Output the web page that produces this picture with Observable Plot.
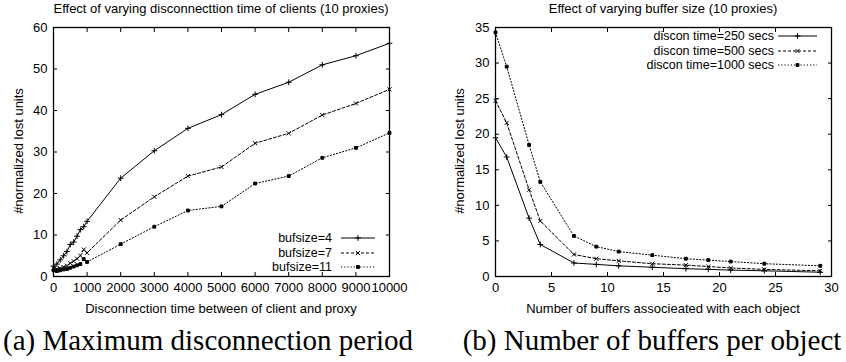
<!DOCTYPE html>
<html>
<head>
<meta charset="utf-8">
<script src="https://cdn.jsdelivr.net/npm/d3@7"></script>
<script src="https://cdn.jsdelivr.net/npm/@observablehq/plot@0.6"></script>
<style>
  body { margin: 0; background: #fff; }
  #wrap { position: relative; width: 846px; height: 362px; overflow: hidden; font-family: "Liberation Sans", Arial, sans-serif; color: #000; }
  .abs { position: absolute; white-space: nowrap; line-height: 15px; }
  .title { font-size: 13px; transform: translateX(-50%); }
  .xlab { font-size: 13px; transform: translateX(-50%); }
  .ylab { font-size: 13px; transform: translate(-50%, -50%) rotate(-90deg); }
  .cap { font-family: "Liberation Serif", "Times New Roman", serif; font-size: 29px; line-height: 33px; transform: translateX(-50%); }
  .leg { position: absolute; font-size: 12.5px; line-height: 12px; }
  .leg .row { position: absolute; right: 0; display: flex; align-items: center; white-space: nowrap; height: 12px; }
  .plot { position: absolute; top: 0; }
</style>
</head>
<body>
<div id="wrap"></div>
<script>
// ---- Panel (a): disconnection time ----
const discTimes = [0,100,200,300,400,500,600,700,800,900,1000,2000,3000,4000,5000,6000,7000,8000,9000,10000];
const buf4  = [2.5,3.0,4.0,5.0,6.0,7.7,8.3,9.7,11.3,12.0,13.3,23.7,30.3,35.7,39.0,43.9,46.8,51.0,53.2,56.2];
const buf7  = [2.0,1.8,2.0,2.3,2.6,3.2,3.7,4.3,5.0,6.5,5.7,13.6,19.2,24.2,26.4,32.1,34.5,38.9,41.7,45.1];
const buf11 = [1.5,1.3,1.5,1.7,1.8,2.1,2.4,2.7,3.0,4.2,3.5,7.8,12.0,15.9,16.9,22.4,24.2,28.6,31.0,34.6];
const seriesA = ["bufsize=4","bufsize=7","bufsize=11"];
const xTicksA = [0,1000,2000,3000,4000,5000,6000,7000,8000,9000,10000];
const yTicksA = [0,10,20,30,40,50,60];

// ---- Panel (b): number of buffers ----
const numBuffers = [0,1,3,4,7,9,11,14,17,19,21,24,29];
const d250  = [19.5,16.8,8.2,4.5,1.9,1.7,1.5,1.3,1.1,1.0,0.9,0.8,0.6];
const d500  = [24.7,21.6,12.2,7.8,3.1,2.5,2.2,1.8,1.6,1.4,1.2,1.0,0.8];
const d1000 = [34.3,29.5,18.5,13.3,5.7,4.2,3.5,3.0,2.5,2.3,2.1,1.8,1.5];
const seriesB = ["discon time=250 secs","discon time=500 secs","discon time=1000 secs"];
const xTicksB = [0,5,10,15,20,25,30];
const yTicksB = [0,5,10,15,20,25,30,35];

const styles = [
  {dash: null, symbol: "plus", fill: "none", r: 2},
  {dash: "3,2", symbol: "times", fill: "none", r: 2},
  {dash: "1.2,2", symbol: "square", fill: "black", r: 1.6}
];

function rows(xs, ys, names) {
  return names.flatMap((n, i) => xs.map((x, j) => ({series: i, name: n, x, y: ys[i][j]})));
}
const rowsA = rows(discTimes, [buf4, buf7, buf11], seriesA);
const rowsB = rows(numBuffers, [d250, d500, d1000], seriesB);

function makePlot(data, xDomain, yDomain, xTicks, yTicks, mr) {
  const marks = [];
  styles.forEach((s, i) => {
    const d = data.filter(r => r.series === i);
    marks.push(Plot.line(d, {x: "x", y: "y", stroke: "black", strokeWidth: 1, strokeDasharray: s.dash}));
    marks.push(Plot.dot(d, {x: "x", y: "y", symbol: () => s.symbol, r: s.r, stroke: "black", strokeWidth: 1, fill: s.fill}));
  });
  const tickOpts = {tickSize: -4, stroke: "black", fontSize: 13, label: null};
  const fmt = d => String(d);
  marks.push(
    Plot.axisX(xTicks, {...tickOpts, anchor: "bottom", tickPadding: 10, tickFormat: fmt}),
    Plot.axisX(xTicks, {...tickOpts, anchor: "top", tickFormat: () => ""}),
    Plot.axisY(yTicks, {...tickOpts, anchor: "left", tickPadding: 10, tickFormat: fmt}),
    Plot.axisY(yTicks, {...tickOpts, anchor: "right", tickFormat: () => ""}),
    Plot.frame({stroke: "black", strokeWidth: 1.3})
  );
  return Plot.plot({
    width: 423, height: 300,
    marginTop: 27, marginBottom: 24, marginLeft: mr[0], marginRight: mr[1],
    style: {fontFamily: "Liberation Sans, Arial, sans-serif", fontSize: "13px", color: "black", background: "white", overflow: "visible"},
    x: {domain: xDomain},
    y: {domain: yDomain},
    symbol: {type: "identity"},
    marks
  });
}

const wrap = document.getElementById("wrap");
function add(el, left) { el.classList.add("plot"); el.style.left = left + "px"; wrap.appendChild(el); }
add(makePlot(rowsA, [0, 10000], [0, 60], xTicksA, yTicksA, [53, 34]), 0);
add(makePlot(rowsB, [0, 30], [0, 35], xTicksB, yTicksB, [72, 15]), 423);

function txt(cls, text, left, top) {
  const d = document.createElement("div");
  d.className = "abs " + cls; d.textContent = text;
  d.style.left = left + "px"; d.style.top = top + "px";
  wrap.appendChild(d); return d;
}
txt("title", "Effect of varying disconnecttion time of clients (10 proxies)", 221, 1);
txt("title", "Effect of varying buffer size (10 proxies)", 663, 1);
txt("xlab", "Disconnection time between of client and proxy", 221, 301);
txt("xlab", "Number of buffers associeated with each object", 663, 301);
txt("ylab", "#normalized lost units", 18, 151);
txt("ylab", "#normalized lost units", 459, 151);
txt("cap", "(a) Maximum disconnection period", 208, 324);
txt("cap", "(b) Number of buffers per object", 652, 324);

function legend(names, right, top, spacing, gap, lineW) {
  const L = document.createElement("div");
  L.className = "leg";
  L.style.left = "0px"; L.style.width = right + "px"; L.style.top = top + "px";
  names.forEach((n, i) => {
    const s = styles[i];
    const row = document.createElement("div");
    row.className = "row";
    row.style.top = (i * spacing) + "px";
    const span = document.createElement("span"); span.textContent = n;
    row.appendChild(span);
    const ns = "http://www.w3.org/2000/svg";
    const svg = document.createElementNS(ns, "svg");
    svg.setAttribute("width", lineW); svg.setAttribute("height", 10);
    svg.style.marginLeft = gap + "px";
    const ln = document.createElementNS(ns, "line");
    ln.setAttribute("x1", 0); ln.setAttribute("x2", lineW); ln.setAttribute("y1", 5); ln.setAttribute("y2", 5);
    ln.setAttribute("stroke", "black"); if (s.dash) ln.setAttribute("stroke-dasharray", s.dash);
    svg.appendChild(ln);
    const type = s.symbol === "plus" ? d3.symbolPlus : s.symbol === "times" ? d3.symbolX : d3.symbolSquare;
    const sym = d3.symbol(type, Math.PI * s.r * s.r)();
    const p = document.createElementNS(ns, "path");
    p.setAttribute("d", sym); p.setAttribute("transform", `translate(${lineW / 2},5)`);
    p.setAttribute("stroke", "black"); p.setAttribute("fill", s.fill);
    svg.appendChild(p);
    row.appendChild(svg);
    L.appendChild(row);
  });
  wrap.appendChild(L);
}
legend(seriesA, 375, 232, 14.5, 9, 34);
legend(seriesB, 817, 30, 14.5, 4, 39);
</script>
</body>
</html>
